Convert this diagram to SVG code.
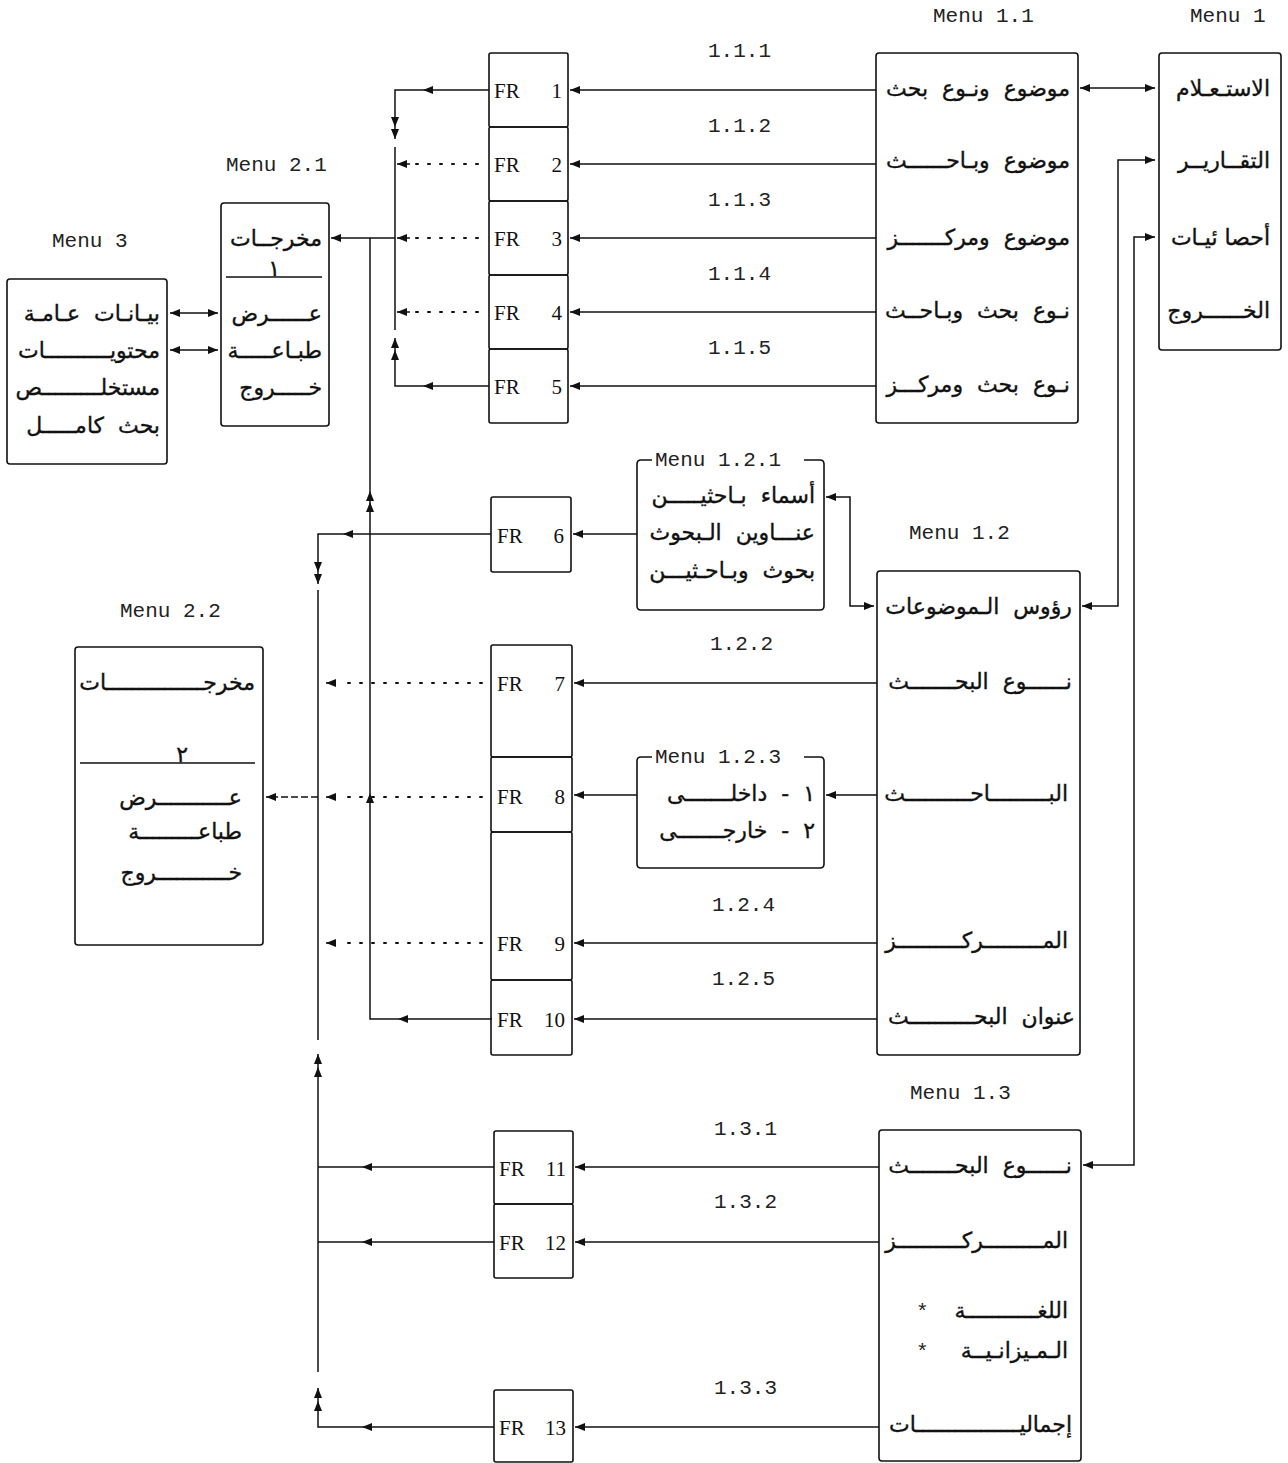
<svg xmlns="http://www.w3.org/2000/svg" width="1288" height="1463" viewBox="0 0 1288 1463">
<style>
.bx{fill:none;stroke:#111;stroke-width:1.6}
.ln{fill:none;stroke:#111;stroke-width:1.5}
.dt{fill:none;stroke:#111;stroke-width:2;stroke-dasharray:2 10;stroke-linecap:round}
.lbl{font-family:"Liberation Mono",monospace;font-size:21px;fill:#222}
.fr{font-family:"Liberation Serif",serif;font-size:21px;fill:#111}
.ar{font-family:"DejaVu Sans",sans-serif;font-size:22px;fill:#111;stroke:#111;stroke-width:0.35;text-anchor:end;white-space:pre}
</style>
<defs>
<marker id="a" viewBox="0 0 10 8" refX="10" refY="4" markerWidth="10" markerHeight="8" markerUnits="userSpaceOnUse" orient="auto-start-reverse">
<path d="M0,0 L10,4 L0,8 z" fill="#111"/>
</marker>
</defs>
<rect width="1288" height="1463" fill="#fff"/>

<g id="menu1">
<text class="lbl" x="1190" y="22">Menu 1</text>
<rect class="bx" x="1159" y="53" width="122" height="297" rx="3"/>
<text class="ar" x="1270" y="96">الاستـعـلام</text>
<text class="ar" x="1270" y="168">التقــاريــر</text>
<text class="ar" x="1270" y="245">أحصا ئيـات</text>
<text class="ar" x="1270" y="318">الخــــــروج</text>
</g>

<g id="menu11">
<text class="lbl" x="933" y="22">Menu 1.1</text>
<rect class="bx" x="876" y="53" width="202" height="370" rx="3"/>
<text class="ar" x="1070" y="96">موضوع  ونـوع  بحث</text>
<text class="ar" x="1070" y="168">موضوع  وبـاحــــــث</text>
<text class="ar" x="1070" y="245">موضوع  ومركـــــــز</text>
<text class="ar" x="1070" y="318">نـوع  بحث  وبـاحــث</text>
<text class="ar" x="1070" y="392">نـوع  بحث  ومركـــز</text>
</g>

<g id="fr1"><rect class="bx" x="489" y="53" width="79" height="74" rx="2"/><text class="fr" x="494" y="98">FR</text><text class="fr" x="562" y="98" text-anchor="end">1</text></g>
<g id="fr2"><rect class="bx" x="489" y="127" width="79" height="74" rx="2"/><text class="fr" x="494" y="172">FR</text><text class="fr" x="562" y="172" text-anchor="end">2</text></g>
<g id="fr3"><rect class="bx" x="489" y="201" width="79" height="74" rx="2"/><text class="fr" x="494" y="246">FR</text><text class="fr" x="562" y="246" text-anchor="end">3</text></g>
<g id="fr4"><rect class="bx" x="489" y="275" width="79" height="74" rx="2"/><text class="fr" x="494" y="320">FR</text><text class="fr" x="562" y="320" text-anchor="end">4</text></g>
<g id="fr5"><rect class="bx" x="489" y="349" width="79" height="74" rx="2"/><text class="fr" x="494" y="394">FR</text><text class="fr" x="562" y="394" text-anchor="end">5</text></g>

<g id="menu21">
<text class="lbl" x="226" y="171">Menu 2.1</text>
<rect class="bx" x="221" y="203" width="108" height="223" rx="3"/>
<text class="ar" x="322" y="246">مخرجــات</text>
<line class="ln" x1="226" y1="277" x2="322" y2="277"/>
<text class="ar" x="280" y="276">١</text>
<text class="ar" x="322" y="321">عــــــرض</text>
<text class="ar" x="322" y="358">طبـاعـــــة</text>
<text class="ar" x="322" y="395">خـــــروج</text>
</g>

<g id="menu3">
<text class="lbl" x="52" y="247">Menu 3</text>
<rect class="bx" x="7" y="279" width="160" height="185" rx="3"/>
<text class="ar" x="160" y="321">بيـانـات  عـامـة</text>
<text class="ar" x="160" y="358">محتويــــــــــات</text>
<text class="ar" x="160" y="395">مستخلـــــــــص</text>
<text class="ar" x="160" y="433">بحث  كامـــــل</text>
</g>

<g id="menu121">
<path class="bx" d="M652,460 L641,460 Q637,460 637,464 L637,606 Q637,610 641,610 L820,610 Q824,610 824,606 L824,464 Q824,460 820,460 L804,460"/>
<text class="lbl" x="655" y="466">Menu 1.2.1</text>
<text class="ar" x="815" y="503">أسماء  بـاحثيـــــن</text>
<text class="ar" x="815" y="540">عنـــاوين  الـبحوث</text>
<text class="ar" x="815" y="578">بحوث  وبـاحـثيـــن</text>
</g>

<g id="fr6"><rect class="bx" x="491" y="497" width="80" height="75" rx="2"/><text class="fr" x="497" y="543">FR</text><text class="fr" x="564" y="543" text-anchor="end">6</text></g>

<g id="menu12">
<text class="lbl" x="909" y="539">Menu 1.2</text>
<rect class="bx" x="877" y="571" width="203" height="484" rx="3"/>
<text class="ar" x="1072" y="614">رؤوس  الـموضوعات</text>
<text class="ar" x="1072" y="689">نــــــوع  البحـــــــث</text>
<text class="ar" x="1068" y="801">البـــــــــاحــــــــــث</text>
<text class="ar" x="1068" y="948">المـــــــــركــــــــــز</text>
<text class="ar" x="1075" y="1024">عنوان  البحــــــــــث</text>
</g>

<g id="menu123">
<path class="bx" d="M652,757 L641,757 Q637,757 637,761 L637,864 Q637,868 641,868 L820,868 Q824,868 824,864 L824,761 Q824,757 820,757 L804,757"/>
<text class="lbl" x="655" y="763">Menu 1.2.3</text>
<text class="ar" x="815" y="801">١  -  داخلـــــــى</text>
<text class="ar" x="815" y="838">٢  -  خارجـــــــى</text>
</g>

<g id="fr7"><rect class="bx" x="491" y="645" width="81" height="112" rx="2"/><text class="fr" x="497" y="691">FR</text><text class="fr" x="565" y="691" text-anchor="end">7</text></g>
<g id="fr8"><rect class="bx" x="491" y="757" width="81" height="75" rx="2"/><text class="fr" x="497" y="804">FR</text><text class="fr" x="565" y="804" text-anchor="end">8</text></g>
<g id="fr9"><rect class="bx" x="491" y="832" width="81" height="148" rx="2"/><text class="fr" x="497" y="951">FR</text><text class="fr" x="565" y="951" text-anchor="end">9</text></g>
<g id="fr10"><rect class="bx" x="491" y="980" width="81" height="75" rx="2"/><text class="fr" x="497" y="1027">FR</text><text class="fr" x="565" y="1027" text-anchor="end">10</text></g>

<g id="menu22">
<text class="lbl" x="120" y="617">Menu 2.2</text>
<rect class="bx" x="75" y="647" width="188" height="298" rx="3"/>
<text class="ar" x="255" y="690">مخرجـــــــــــــــات</text>
<line class="ln" x1="80" y1="763" x2="255" y2="763"/>
<text class="ar" x="188" y="762">٢</text>
<text class="ar" x="242" y="805">عـــــــــــرض</text>
<text class="ar" x="242" y="839">طباعـــــــــة</text>
<text class="ar" x="242" y="880">خـــــــــــروج</text>
</g>

<g id="menu13">
<text class="lbl" x="910" y="1099">Menu 1.3</text>
<rect class="bx" x="879" y="1130" width="202" height="331" rx="3"/>
<text class="ar" x="1072" y="1173">نــــــوع  البحـــــــث</text>
<text class="ar" x="1068" y="1248">المـــــــــركــــــــــز</text>
<text class="ar" x="1068" y="1318">اللغـــــــــــة</text>
<text class="lbl" x="916" y="1318">*</text>
<text class="ar" x="1068" y="1358">الـمـيزانـيــة</text>
<text class="lbl" x="916" y="1358">*</text>
<text class="ar" x="1072" y="1432">إجماليــــــــــــــــات</text>
</g>

<g id="fr11"><rect class="bx" x="494" y="1131" width="79" height="73" rx="2"/><text class="fr" x="499" y="1176">FR</text><text class="fr" x="566" y="1176" text-anchor="end">11</text></g>
<g id="fr12"><rect class="bx" x="494" y="1204" width="79" height="74" rx="2"/><text class="fr" x="499" y="1250">FR</text><text class="fr" x="566" y="1250" text-anchor="end">12</text></g>
<g id="fr13"><rect class="bx" x="494" y="1390" width="79" height="72" rx="2"/><text class="fr" x="499" y="1435">FR</text><text class="fr" x="566" y="1435" text-anchor="end">13</text></g>

<g id="connectors">
<g class="lbl">
<text x="708" y="57">1.1.1</text>
<text x="708" y="132">1.1.2</text>
<text x="708" y="206">1.1.3</text>
<text x="708" y="280">1.1.4</text>
<text x="708" y="354">1.1.5</text>
<text x="710" y="650">1.2.2</text>
<text x="712" y="911">1.2.4</text>
<text x="712" y="985">1.2.5</text>
<text x="714" y="1135">1.3.1</text>
<text x="714" y="1208">1.3.2</text>
<text x="714" y="1394">1.3.3</text>
</g>
<path class="ln" d="M1080,88 L1155,88" marker-start="url(#a)" marker-end="url(#a)"/>
<path class="ln" d="M1155,160 L1118,160 L1118,606 L1082,606" marker-start="url(#a)" marker-end="url(#a)"/>
<path class="ln" d="M1155,237 L1134,237 L1134,1165 L1083,1165" marker-start="url(#a)" marker-end="url(#a)"/>

<path class="ln" d="M876,90 L570,90" marker-end="url(#a)"/>
<path class="ln" d="M876,164 L570,164" marker-end="url(#a)"/>
<path class="ln" d="M876,238 L570,238" marker-end="url(#a)"/>
<path class="ln" d="M876,312 L570,312" marker-end="url(#a)"/>
<path class="ln" d="M876,386 L570,386" marker-end="url(#a)"/>

<path class="ln" d="M489,90 L423,90" marker-end="url(#a)"/>
<path class="ln" d="M423,90 L395,90 L395,127" marker-end="url(#a)"/>
<path class="ln" d="M395,127 L395,139" marker-end="url(#a)"/>
<path class="ln" d="M395,147 L395,330"/>
<path class="ln" d="M489,386 L423,386" marker-end="url(#a)"/>
<path class="ln" d="M423,386 L395,386 L395,350" marker-end="url(#a)"/>
<path class="ln" d="M395,350 L395,338" marker-end="url(#a)"/>
<path class="dt" d="M478,164 L408,164"/>
<path class="ln" d="M410,164 L397,164" marker-end="url(#a)"/>
<path class="dt" d="M478,238 L408,238"/>
<path class="ln" d="M410,238 L397,238" marker-end="url(#a)"/>
<path class="dt" d="M478,312 L408,312"/>
<path class="ln" d="M410,312 L397,312" marker-end="url(#a)"/>
<path class="ln" d="M395,238 L331,238" marker-end="url(#a)"/>

<path class="ln" d="M218,313 L170,313" marker-start="url(#a)" marker-end="url(#a)"/>
<path class="ln" d="M218,350 L170,350" marker-start="url(#a)" marker-end="url(#a)"/>

<path class="ln" d="M492,1019 L398,1019" marker-end="url(#a)"/>
<path class="ln" d="M398,1019 L370,1019 L370,793" marker-end="url(#a)"/>
<path class="ln" d="M370,793 L370,502" marker-end="url(#a)"/>
<path class="ln" d="M370,502 L370,491" marker-end="url(#a)"/>
<path class="ln" d="M370,491 L370,238"/>

<path class="ln" d="M637,534 L573,534" marker-end="url(#a)"/>
<path class="ln" d="M491,534 L343,534" marker-end="url(#a)"/>
<path class="ln" d="M343,534 L318,534 L318,572" marker-end="url(#a)"/>
<path class="ln" d="M318,572 L318,584" marker-end="url(#a)"/>
<path class="ln" d="M318,590 L318,1040"/>
<path class="ln" d="M318,797 L266,797" stroke-dasharray="7 3" marker-end="url(#a)"/>

<path class="dt" d="M482,683 L338,683"/>
<path class="ln" d="M336,683 L326,683" marker-end="url(#a)"/>
<path class="dt" d="M482,797 L338,797"/>
<path class="ln" d="M336,797 L326,797" marker-end="url(#a)"/>
<path class="dt" d="M482,943 L338,943"/>
<path class="ln" d="M336,943 L326,943" marker-end="url(#a)"/>

<path class="ln" d="M877,683 L574,683" marker-end="url(#a)"/>
<path class="ln" d="M877,795 L826,795" marker-end="url(#a)"/>
<path class="ln" d="M637,795 L574,795" marker-end="url(#a)"/>
<path class="ln" d="M877,943 L574,943" marker-end="url(#a)"/>
<path class="ln" d="M877,1019 L574,1019" marker-end="url(#a)"/>
<path class="ln" d="M826,497 L850,497 L850,606 L874,606" marker-start="url(#a)" marker-end="url(#a)"/>

<path class="ln" d="M879,1167 L575,1167" marker-end="url(#a)"/>
<path class="ln" d="M879,1242 L575,1242" marker-end="url(#a)"/>
<path class="ln" d="M879,1427 L575,1427" marker-end="url(#a)"/>

<path class="ln" d="M494,1167 L362,1167" marker-end="url(#a)"/>
<path class="ln" d="M362,1167 L318,1167"/>
<path class="ln" d="M494,1242 L362,1242" marker-end="url(#a)"/>
<path class="ln" d="M362,1242 L318,1242"/>
<path class="ln" d="M494,1427 L362,1427" marker-end="url(#a)"/>
<path class="ln" d="M362,1427 L318,1427 L318,1401" marker-end="url(#a)"/>
<path class="ln" d="M318,1401 L318,1388" marker-end="url(#a)"/>
<path class="ln" d="M318,1372 L318,1067" marker-end="url(#a)"/>
<path class="ln" d="M318,1067 L318,1054" marker-end="url(#a)"/>
</g>
</svg>
